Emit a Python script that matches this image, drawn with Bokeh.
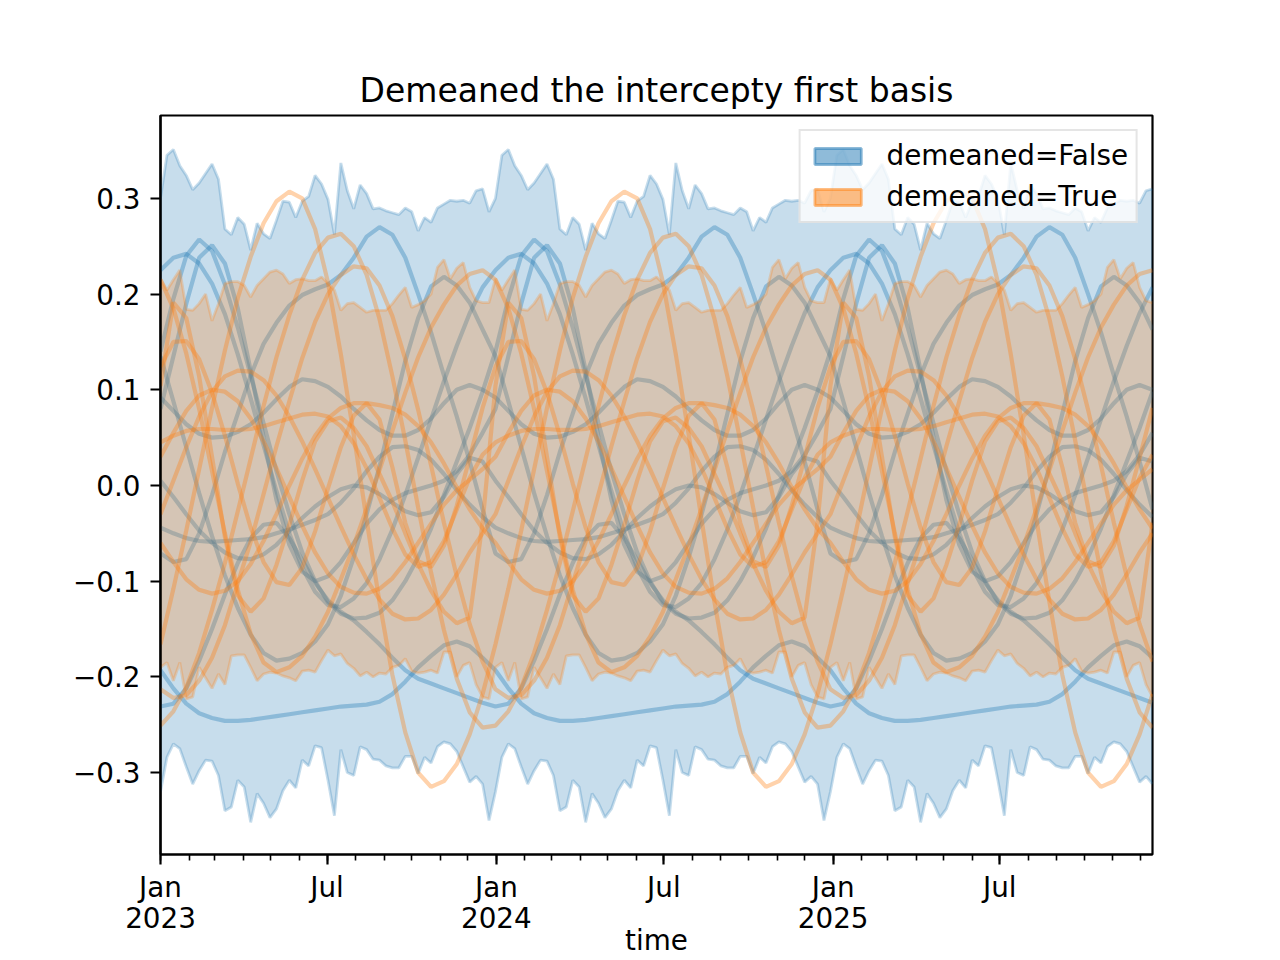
import pandas as pd
from bokeh.plotting import figure
from bokeh.models import Range1d, FixedTicker, Legend, LegendItem, CustomJSTickFormatter
from bokeh.embed import file_html
from bokeh.resources import INLINE

TITLE = "Demeaned the intercepty first basis"
X_LABEL = "time"
SERIES = ["demeaned=False", "demeaned=True"]
C_BLUE = "#1f77b4"
C_ORANGE = "#ff7f0e"

START = "2023-01-01"
END = "2025-12-14"

# HDI bands: one year of weekly values (pattern repeats every year)
blue_hdi_upper = [0.300, 0.345, 0.351, 0.334, 0.324, 0.309, 0.316, 0.326, 0.336, 0.320, 0.268, 0.262, 0.280,
                  0.273, 0.246, 0.274, 0.263, 0.258, 0.277, 0.297, 0.296, 0.280, 0.297, 0.302, 0.324, 0.315,
                  0.299, 0.262, 0.337, 0.308, 0.289, 0.314, 0.305, 0.289, 0.290, 0.287, 0.285, 0.283, 0.290,
                  0.286, 0.266, 0.280, 0.275, 0.290, 0.294, 0.298, 0.297, 0.298, 0.295, 0.308, 0.310, 0.286]
blue_hdi_lower = [-0.320, -0.284, -0.270, -0.275, -0.294, -0.312, -0.298, -0.287, -0.288, -0.303, -0.340, -0.336,
                  -0.308, -0.315, -0.352, -0.322, -0.332, -0.347, -0.338, -0.319, -0.308, -0.316, -0.287, -0.293,
                  -0.272, -0.274, -0.308, -0.345, -0.276, -0.300, -0.303, -0.273, -0.276, -0.286, -0.287, -0.293,
                  -0.295, -0.295, -0.283, -0.283, -0.301, -0.284, -0.290, -0.273, -0.268, -0.270, -0.278, -0.294,
                  -0.310, -0.304, -0.312, -0.350]
orange_hdi_upper = [0.216, 0.204, 0.215, 0.225, 0.184, 0.183, 0.190, 0.200, 0.172, 0.190, 0.211, 0.213, 0.213,
                    0.209, 0.197, 0.209, 0.216, 0.223, 0.225, 0.221, 0.211, 0.215, 0.216, 0.214, 0.214, 0.218,
                    0.211, 0.204, 0.183, 0.190, 0.191, 0.186, 0.181, 0.183, 0.183, 0.183, 0.190, 0.199, 0.207,
                    0.186, 0.189, 0.193, 0.200, 0.228, 0.236, 0.216, 0.227, 0.233, 0.207, 0.193, 0.191, 0.191]
orange_hdi_lower = [-0.190, -0.185, -0.204, -0.185, -0.223, -0.221, -0.190, -0.201, -0.212, -0.197, -0.208, -0.178,
                    -0.177, -0.177, -0.190, -0.204, -0.197, -0.195, -0.196, -0.199, -0.201, -0.204, -0.194, -0.193,
                    -0.195, -0.183, -0.172, -0.178, -0.176, -0.186, -0.191, -0.199, -0.195, -0.200, -0.196, -0.197,
                    -0.190, -0.188, -0.181, -0.194, -0.196, -0.195, -0.193, -0.196, -0.174, -0.174, -0.200, -0.188,
                    -0.185, -0.208, -0.221, -0.223]

# Sample curves: one year, every 14 days (pattern repeats every year)
blue_1 = [-0.193, -0.212, -0.228, -0.238, -0.243, -0.246, -0.246, -0.245, -0.243, -0.241, -0.239, -0.237, -0.235,
          -0.233, -0.231, -0.230, -0.229, -0.226, -0.218, -0.205, -0.190, -0.178, -0.167, -0.163, -0.168, -0.180]
blue_2 = [-0.231, -0.228, -0.212, -0.183, -0.150, -0.114, -0.081, -0.055, -0.041, -0.039, -0.055, -0.078, -0.102,
          -0.120, -0.132, -0.141, -0.153, -0.166, -0.180, -0.193, -0.202, -0.207, -0.212, -0.217, -0.222, -0.227]
blue_3 = [0.092, 0.078, 0.064, 0.054, 0.050, 0.051, 0.056, 0.064, 0.076, 0.090, 0.103, 0.111, 0.109,
          0.103, 0.093, 0.080, 0.068, 0.058, 0.052, 0.052, 0.058, 0.070, 0.086, 0.100, 0.105, 0.100]
blue_4 = [-0.071, -0.080, -0.077, -0.050, -0.010, 0.035, 0.075, 0.115, 0.148, 0.170, 0.188, 0.199, 0.205,
          0.210, 0.220, 0.238, 0.260, 0.270, 0.262, 0.238, 0.200, 0.160, 0.115, 0.072, 0.025, -0.025]
blue_5 = [0.135, 0.088, 0.040, -0.008, -0.053, -0.094, -0.128, -0.156, -0.175, -0.183, -0.181, -0.175, -0.163,
          -0.145, -0.115, -0.075, -0.030, 0.020, 0.075, 0.130, 0.175, 0.208, 0.218, 0.209, 0.191, 0.163]
blue_6 = [-0.044, -0.050, -0.055, -0.058, -0.059, -0.058, -0.057, -0.056, -0.054, -0.050, -0.046, -0.041, -0.036,
          -0.030, -0.018, -0.003, 0.015, 0.030, 0.040, 0.041, 0.037, 0.027, 0.012, -0.005, -0.020, -0.033]
blue_7 = [0.225, 0.238, 0.242, 0.232, 0.211, 0.179, 0.137, 0.091, 0.042, -0.006, -0.050, -0.086, -0.111,
          -0.125, -0.127, -0.118, -0.102, -0.077, -0.046, -0.010, 0.029, 0.069, 0.109, 0.146, 0.180, 0.207]
blue_8 = [0.140, 0.195, 0.240, 0.257, 0.245, 0.210, 0.165, 0.115, 0.065, 0.015, -0.030, -0.070, -0.100,
          -0.122, -0.134, -0.139, -0.138, -0.133, -0.120, -0.100, -0.075, -0.045, -0.010, 0.025, 0.060, 0.098]
blue_9 = [0.080, 0.135, 0.190, 0.238, 0.251, 0.232, 0.185, 0.120, 0.050, -0.015, -0.062, -0.090, -0.100,
          -0.095, -0.080, -0.060, -0.040, -0.025, -0.015, -0.008, -0.004, 0.000, 0.005, 0.015, 0.032, 0.055]
blue_10 = [0.005, -0.012, -0.030, -0.047, -0.060, -0.070, -0.076, -0.077, -0.072, -0.062, -0.048, -0.034, -0.022,
           -0.012, -0.004, 0.000, -0.002, -0.009, -0.018, -0.027, -0.031, -0.028, -0.012, 0.012, 0.029, 0.025]

orange_1 = [-0.166, -0.108, -0.047, 0.017, 0.081, 0.141, 0.196, 0.239, 0.274, 0.297, 0.307, 0.300, 0.268,
            0.212, 0.137, 0.053, -0.036, -0.122, -0.198, -0.258, -0.300, -0.315, -0.309, -0.291, -0.260, -0.218]
orange_2 = [-0.251, -0.236, -0.211, -0.175, -0.130, -0.081, -0.027, 0.028, 0.083, 0.134, 0.178, 0.215, 0.243,
            0.259, 0.263, 0.250, 0.220, 0.174, 0.114, 0.047, -0.023, -0.091, -0.151, -0.202, -0.237, -0.253]
orange_3 = [-0.213, -0.222, -0.219, -0.204, -0.180, -0.146, -0.102, -0.059, -0.009, 0.041, 0.088, 0.133, 0.171,
            0.200, 0.220, 0.229, 0.227, 0.209, 0.177, 0.132, 0.079, 0.021, -0.039, -0.095, -0.145, -0.184]
orange_4 = [0.215, 0.185, 0.138, 0.080, 0.015, -0.050, -0.109, -0.155, -0.185, -0.195, -0.190, -0.178, -0.158,
            -0.132, -0.098, -0.063, -0.024, 0.016, 0.057, 0.097, 0.134, 0.165, 0.189, 0.209, 0.221, 0.225]
orange_5 = [0.104, 0.191, 0.175, 0.114, 0.030, -0.054, -0.115, -0.132, -0.118, -0.083, -0.041, 0.005, 0.046,
            0.067, 0.071, 0.060, 0.041, 0.012, -0.017, -0.050, -0.082, -0.110, -0.132, -0.144, -0.138, -0.039]
orange_6 = [0.124, 0.150, 0.151, 0.132, 0.097, 0.052, 0.002, -0.044, -0.080, -0.101, -0.104, -0.086, -0.048,
            -0.003, 0.040, 0.073, 0.086, 0.069, 0.019, -0.039, -0.079, -0.085, -0.063, -0.021, 0.029, 0.081]
orange_7 = [0.045, 0.052, 0.057, 0.059, 0.059, 0.058, 0.058, 0.059, 0.062, 0.066, 0.070, 0.074, 0.075,
            0.072, 0.062, 0.044, 0.018, -0.013, -0.045, -0.072, -0.085, -0.080, -0.058, -0.025, 0.008, 0.032]
orange_8 = [-0.060, -0.080, -0.098, -0.109, -0.113, -0.110, -0.100, -0.082, -0.058, -0.030, 0.000, 0.028, 0.052,
            0.070, 0.081, 0.086, 0.086, 0.084, 0.081, 0.074, 0.062, 0.045, 0.023, -0.002, -0.025, -0.045]
orange_9 = [0.030, 0.055, 0.078, 0.094, 0.100, 0.098, 0.088, 0.070, 0.046, 0.018, -0.012, -0.042, -0.070,
            -0.092, -0.106, -0.112, -0.113, -0.108, -0.097, -0.080, -0.060, -0.040, -0.020, -0.005, 0.006, 0.017]
orange_10 = [-0.030, 0.005, 0.040, 0.072, 0.098, 0.114, 0.120, 0.119, 0.110, 0.094, 0.072, 0.046, 0.017,
             -0.013, -0.043, -0.072, -0.098, -0.119, -0.134, -0.140, -0.139, -0.130, -0.114, -0.093, -0.070, -0.050]

blue_lines = [blue_1, blue_2, blue_3, blue_4, blue_5, blue_6, blue_7, blue_8, blue_9, blue_10]
orange_lines = [orange_1, orange_2, orange_3, orange_4, orange_5, orange_6, orange_7, orange_8, orange_9, orange_10]

weekly = pd.date_range(START, END, freq="7D")
biweekly = pd.date_range(START, END, freq="14D")


def repeat_years(vals, n):
    out = []
    while len(out) < n:
        out.extend(vals)
    return out[:n]


FONT = "DejaVu Sans"
p = figure(width=1280, height=960, output_backend="svg", toolbar_location=None,
           x_axis_type="datetime",
           x_range=Range1d(pd.Timestamp(START), pd.Timestamp(END)),
           y_range=Range1d(-0.3856, 0.3866),
           min_border_left=160, min_border_right=128, min_border_top=115, min_border_bottom=106)
p.title.text = TITLE
p.title.text_font = FONT
p.title.text_font_size = "33px"
p.title.text_font_style = "normal"
p.title.text_color = "black"
p.title.align = "center"
p.title.offset = 0
p.title.standoff = 12

p.xgrid.visible = False
p.ygrid.visible = False
p.outline_line_color = "black"
p.outline_line_width = 2.2
p.outline_line_alpha = 1.0
p.background_fill_color = "white"
p.border_fill_color = "white"


def band(upper, lower, color):
    up = repeat_years(upper, len(weekly))
    lo = repeat_years(lower, len(weekly))
    p.varea(x=weekly, y1=lo, y2=up, fill_color=color, fill_alpha=0.25)
    p.line(x=weekly, y=up, line_color=color, line_alpha=0.25, line_width=2.8)
    p.line(x=weekly, y=lo, line_color=color, line_alpha=0.25, line_width=2.8)


band(blue_hdi_upper, blue_hdi_lower, C_BLUE)
for vals in blue_lines:
    p.line(x=biweekly, y=repeat_years(vals, len(biweekly)), line_color=C_BLUE, line_alpha=0.35, line_width=4.2)
band(orange_hdi_upper, orange_hdi_lower, C_ORANGE)
for vals in orange_lines:
    p.line(x=biweekly, y=repeat_years(vals, len(biweekly)), line_color=C_ORANGE, line_alpha=0.35, line_width=4.2)

# legend proxies (no visible data in the plot)
nan = float("nan")
r_b = p.quad(left=[nan], right=[nan], top=[nan], bottom=[nan], fill_color=C_BLUE, fill_alpha=0.5,
             line_color=C_BLUE, line_alpha=0.5, line_width=2.8)
r_o = p.quad(left=[nan], right=[nan], top=[nan], bottom=[nan], fill_color=C_ORANGE, fill_alpha=0.5,
             line_color=C_ORANGE, line_alpha=0.5, line_width=2.8)
legend = Legend(items=[LegendItem(label=SERIES[0], renderers=[r_b]),
                       LegendItem(label=SERIES[1], renderers=[r_o])],
                location="top_right", label_text_font=FONT, label_text_font_size="27.8px",
                label_text_color="black",
                glyph_width=58, glyph_height=20, label_height=28, spacing=8, padding=8, margin=14,
                label_standoff=20, border_line_color="#cccccc", border_line_width=2,
                background_fill_color="white", background_fill_alpha=0.8)
p.add_layout(legend)

# x axis ticks
major_dates = ["2023-01-01", "2023-07-01", "2024-01-01", "2024-07-01", "2025-01-01", "2025-07-01"]
major_labels = ["Jan\n2023", "Jul", "Jan\n2024", "Jul", "Jan\n2025", "Jul"]
minor_dates = pd.date_range("2023-01-01", "2025-12-01", freq="MS")
ms = lambda d: float(pd.Timestamp(d).value // 10**6)
major_ms = [ms(d) for d in major_dates]
p.xaxis.ticker = FixedTicker(ticks=major_ms, minor_ticks=[ms(d) for d in minor_dates])
p.xaxis.major_label_overrides = {k: v for k, v in zip(major_ms, major_labels)}
p.xaxis.axis_label = X_LABEL

p.yaxis.ticker = FixedTicker(ticks=[-0.3, -0.2, -0.1, 0.0, 0.1, 0.2, 0.3], minor_ticks=[])
p.yaxis.formatter = CustomJSTickFormatter(code="return tick.toFixed(1).replace('-', '\u2212');")

for ax in (p.xaxis, p.yaxis):
    ax.axis_line_width = 2.2
    ax.major_tick_line_width = 2.2
    ax.minor_tick_line_width = 1.6
    ax.major_tick_out = 10
    ax.major_tick_in = 0
    ax.minor_tick_out = 6
    ax.minor_tick_in = 0
    ax.major_label_text_font = FONT
    ax.major_label_text_font_size = "27.8px"
    ax.major_label_text_color = "black"
    ax.axis_label_text_font = FONT
    ax.axis_label_text_font_size = "27.8px"
    ax.axis_label_text_font_style = "normal"
    ax.axis_label_text_color = "black"
p.xaxis.major_label_standoff = 6
p.xaxis.major_label_text_line_height = 0.95
p.xaxis.axis_label_standoff = -14
p.yaxis.major_label_standoff = 10
p.yaxis.minor_tick_line_color = None

open("out.html", "w").write(file_html(p, INLINE))
